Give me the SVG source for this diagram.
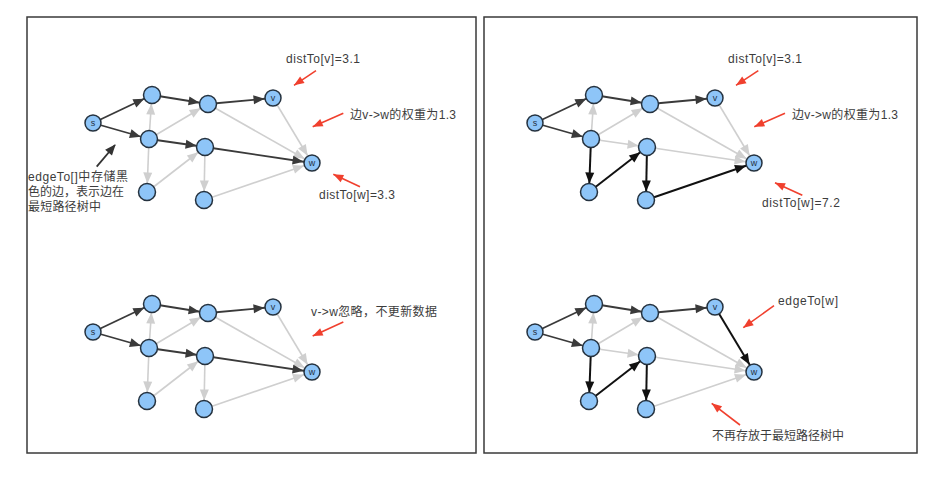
<svg xmlns="http://www.w3.org/2000/svg" width="947" height="479" viewBox="0 0 947 479">
<style>
.frame{fill:none;stroke:#3a3a3a;stroke-width:1.5}
.nd{fill:#8ec5f8;stroke:#25323f;stroke-width:1.5}
.nl{font-family:"Liberation Sans",sans-serif;font-size:9px;fill:#25323f;text-anchor:middle}
.dk{stroke:#3a3a3a;stroke-width:1.8;fill:none;marker-end:url(#mDk)}
.gr{stroke:#cfcfcf;stroke-width:1.6;fill:none;marker-end:url(#mGr)}
.bk{stroke:#111;stroke-width:2;fill:none;marker-end:url(#mBk)}
.red{stroke:#f0402e;stroke-width:1.6;fill:none;marker-end:url(#mRed)}
.ann{stroke:#333;stroke-width:1.8;fill:none;marker-end:url(#mAnn)}
.t{font-family:"Liberation Sans","Noto Sans CJK SC",sans-serif;font-size:12px;fill:#3c3c3c}
</style>
<defs>
<marker id="mDk" markerUnits="userSpaceOnUse" markerWidth="30" markerHeight="10" refX="19.5" refY="4.5" orient="auto" overflow="visible"><path d="M0,0 L11,4.5 L0,9 z" fill="#3a3a3a"/></marker>
<marker id="mGr" markerUnits="userSpaceOnUse" markerWidth="30" markerHeight="10" refX="19.5" refY="4.5" orient="auto" overflow="visible"><path d="M0,0 L11,4.5 L0,9 z" fill="#cfcfcf"/></marker>
<marker id="mBk" markerUnits="userSpaceOnUse" markerWidth="30" markerHeight="10" refX="19.5" refY="4.5" orient="auto" overflow="visible"><path d="M0,0 L11,4.5 L0,9 z" fill="#111"/></marker>
<marker id="mRed" markerUnits="userSpaceOnUse" markerWidth="12" markerHeight="10" refX="10" refY="4" orient="auto" overflow="visible"><path d="M0,0 L10,4 L0,8 z" fill="#f0402e"/></marker>
<marker id="mAnn" markerUnits="userSpaceOnUse" markerWidth="12" markerHeight="10" refX="10" refY="4.5" orient="auto" overflow="visible"><path d="M0,0 L11,4.5 L0,9 z" fill="#333"/></marker>
</defs>
<rect width="947" height="479" fill="#fff"/>
<rect class="frame" x="27" y="17" width="449" height="436"/>
<rect class="frame" x="484" y="17" width="433" height="436"/>

<!-- Panel 1 -->
<g id="panel1">
<g id="p1-edges">
<line class="dk" x1="93" y1="123" x2="152" y2="95"/>
<line class="dk" x1="93" y1="123" x2="149" y2="139"/>
<line class="gr" x1="149" y1="139" x2="152" y2="95"/>
<line class="dk" x1="152" y1="95" x2="208" y2="104"/>
<line class="gr" x1="149" y1="139" x2="208" y2="104"/>
<line class="dk" x1="149" y1="139" x2="205" y2="147"/>
<line class="gr" x1="149" y1="139" x2="147" y2="192"/>
<line class="dk" x1="208" y1="104" x2="273" y2="98"/>
<line class="gr" x1="208" y1="104" x2="312" y2="163"/>
<line class="gr" x1="273" y1="98" x2="312" y2="163"/>
<line class="dk" x1="205" y1="147" x2="312" y2="163"/>
<line class="gr" x1="147" y1="192" x2="205" y2="147"/>
<line class="gr" x1="205" y1="147" x2="204" y2="200"/>
<line class="gr" x1="204" y1="200" x2="312" y2="163"/>
</g>
<g id="p1-s"><circle class="nd" cx="93" cy="123" r="8"/><text class="nl" x="93" y="126">s</text></g>
<g id="p1-a"><circle class="nd" cx="152" cy="95" r="8.5"/></g>
<g id="p1-b"><circle class="nd" cx="149" cy="139" r="8.5"/></g>
<g id="p1-c"><circle class="nd" cx="208" cy="104" r="8.5"/></g>
<g id="p1-d"><circle class="nd" cx="205" cy="147" r="8.5"/></g>
<g id="p1-v"><circle class="nd" cx="273" cy="98" r="8"/><text class="nl" x="273" y="101">v</text></g>
<g id="p1-w"><circle class="nd" cx="312" cy="163" r="8"/><text class="nl" x="312" y="166">w</text></g>
<g id="p1-e"><circle class="nd" cx="147" cy="192" r="8.5"/></g>
<g id="p1-f"><circle class="nd" cx="204" cy="200" r="8.5"/></g>
<g id="p1-notes">
<text class="t" x="286" y="62.5" textLength="74" lengthAdjust="spacing">distTo[v]=3.1</text>
<line class="red" x1="316" y1="70.7" x2="294" y2="85.3"/>
<text class="t" x="350" y="118.5" textLength="106" lengthAdjust="spacing">边v-&gt;w的权重为1.3</text>
<line class="red" x1="343.3" y1="113.3" x2="312.7" y2="126.7"/>
<text class="t" x="319" y="198.5" textLength="76" lengthAdjust="spacing">distTo[w]=3.3</text>
<line class="red" x1="360" y1="186.7" x2="333.3" y2="174.3"/>
<line class="ann" x1="96.7" y1="166.7" x2="115" y2="145"/>
<text class="t" x="28" y="180.5" textLength="100" lengthAdjust="spacing">edgeTo[]中存储黑</text>
<text class="t" x="28" y="195.5" textLength="96" lengthAdjust="spacing">色的边，表示边在</text>
<text class="t" x="28" y="210.5" textLength="73" lengthAdjust="spacing">最短路径树中</text>
</g>
</g>

<!-- Panel 3 -->
<g id="panel3">
<g id="p3-edges">
<line class="dk" x1="93" y1="332" x2="152" y2="304"/>
<line class="dk" x1="93" y1="332" x2="149" y2="348"/>
<line class="gr" x1="149" y1="348" x2="152" y2="304"/>
<line class="dk" x1="152" y1="304" x2="208" y2="313"/>
<line class="gr" x1="149" y1="348" x2="208" y2="313"/>
<line class="dk" x1="149" y1="348" x2="205" y2="356"/>
<line class="gr" x1="149" y1="348" x2="147" y2="401"/>
<line class="dk" x1="208" y1="313" x2="273" y2="307"/>
<line class="gr" x1="208" y1="313" x2="312" y2="372"/>
<line class="gr" x1="273" y1="307" x2="312" y2="372"/>
<line class="dk" x1="205" y1="356" x2="312" y2="372"/>
<line class="gr" x1="147" y1="401" x2="205" y2="356"/>
<line class="gr" x1="205" y1="356" x2="204" y2="409"/>
<line class="gr" x1="204" y1="409" x2="312" y2="372"/>
</g>
<g id="p3-s"><circle class="nd" cx="93" cy="332" r="8"/><text class="nl" x="93" y="335">s</text></g>
<g id="p3-a"><circle class="nd" cx="152" cy="304" r="8.5"/></g>
<g id="p3-b"><circle class="nd" cx="149" cy="348" r="8.5"/></g>
<g id="p3-c"><circle class="nd" cx="208" cy="313" r="8.5"/></g>
<g id="p3-d"><circle class="nd" cx="205" cy="356" r="8.5"/></g>
<g id="p3-v"><circle class="nd" cx="273" cy="307" r="8"/><text class="nl" x="273" y="310">v</text></g>
<g id="p3-w"><circle class="nd" cx="312" cy="372" r="8"/><text class="nl" x="312" y="375">w</text></g>
<g id="p3-e"><circle class="nd" cx="147" cy="401" r="8.5"/></g>
<g id="p3-f"><circle class="nd" cx="204" cy="409" r="8.5"/></g>
<g id="p3-notes">
<text class="t" x="311" y="315.5" textLength="126" lengthAdjust="spacing">v-&gt;w忽略，不更新数据</text>
<line class="red" x1="343.3" y1="322" x2="312.7" y2="336"/>
</g>
</g>

<!-- Panel 2 -->
<g id="panel2">
<g id="p2-edges">
<line class="dk" x1="535" y1="123" x2="594" y2="95"/>
<line class="dk" x1="535" y1="123" x2="591" y2="139"/>
<line class="gr" x1="591" y1="139" x2="594" y2="95"/>
<line class="dk" x1="594" y1="95" x2="650" y2="104"/>
<line class="gr" x1="591" y1="139" x2="650" y2="104"/>
<line class="gr" x1="591" y1="139" x2="647" y2="147"/>
<line class="bk" x1="591" y1="139" x2="589" y2="192"/>
<line class="dk" x1="650" y1="104" x2="715" y2="98"/>
<line class="gr" x1="650" y1="104" x2="754" y2="163"/>
<line class="gr" x1="715" y1="98" x2="754" y2="163"/>
<line class="gr" x1="647" y1="147" x2="754" y2="163"/>
<line class="bk" x1="589" y1="192" x2="647" y2="147"/>
<line class="bk" x1="647" y1="147" x2="646" y2="200"/>
<line class="bk" x1="646" y1="200" x2="754" y2="163"/>
</g>
<g id="p2-s"><circle class="nd" cx="535" cy="123" r="8"/><text class="nl" x="535" y="126">s</text></g>
<g id="p2-a"><circle class="nd" cx="594" cy="95" r="8.5"/></g>
<g id="p2-b"><circle class="nd" cx="591" cy="139" r="8.5"/></g>
<g id="p2-c"><circle class="nd" cx="650" cy="104" r="8.5"/></g>
<g id="p2-d"><circle class="nd" cx="647" cy="147" r="8.5"/></g>
<g id="p2-v"><circle class="nd" cx="715" cy="98" r="8"/><text class="nl" x="715" y="101">v</text></g>
<g id="p2-w"><circle class="nd" cx="754" cy="163" r="8"/><text class="nl" x="754" y="166">w</text></g>
<g id="p2-e"><circle class="nd" cx="589" cy="192" r="8.5"/></g>
<g id="p2-f"><circle class="nd" cx="646" cy="200" r="8.5"/></g>
<g id="p2-notes">
<text class="t" x="728" y="62.5" textLength="74" lengthAdjust="spacing">distTo[v]=3.1</text>
<line class="red" x1="758.3" y1="70.7" x2="736" y2="85.3"/>
<text class="t" x="792" y="118.5" textLength="106" lengthAdjust="spacing">边v-&gt;w的权重为1.3</text>
<line class="red" x1="785" y1="113.3" x2="754.3" y2="126.7"/>
<text class="t" x="762" y="207" textLength="78" lengthAdjust="spacing">distTo[w]=7.2</text>
<line class="red" x1="802.3" y1="195.3" x2="775" y2="182.7"/>
</g>
</g>

<!-- Panel 4 -->
<g id="panel4">
<g id="p4-edges">
<line class="dk" x1="535" y1="332" x2="594" y2="304"/>
<line class="dk" x1="535" y1="332" x2="591" y2="348"/>
<line class="gr" x1="591" y1="348" x2="594" y2="304"/>
<line class="dk" x1="594" y1="304" x2="650" y2="313"/>
<line class="gr" x1="591" y1="348" x2="650" y2="313"/>
<line class="gr" x1="591" y1="348" x2="647" y2="356"/>
<line class="bk" x1="591" y1="348" x2="589" y2="401"/>
<line class="dk" x1="650" y1="313" x2="715" y2="307"/>
<line class="gr" x1="650" y1="313" x2="754" y2="372"/>
<line class="bk" x1="715" y1="307" x2="754" y2="372"/>
<line class="gr" x1="647" y1="356" x2="754" y2="372"/>
<line class="bk" x1="589" y1="401" x2="647" y2="356"/>
<line class="bk" x1="647" y1="356" x2="646" y2="409"/>
<line class="gr" x1="646" y1="409" x2="754" y2="372"/>
</g>
<g id="p4-s"><circle class="nd" cx="535" cy="332" r="8"/><text class="nl" x="535" y="335">s</text></g>
<g id="p4-a"><circle class="nd" cx="594" cy="304" r="8.5"/></g>
<g id="p4-b"><circle class="nd" cx="591" cy="348" r="8.5"/></g>
<g id="p4-c"><circle class="nd" cx="650" cy="313" r="8.5"/></g>
<g id="p4-d"><circle class="nd" cx="647" cy="356" r="8.5"/></g>
<g id="p4-v"><circle class="nd" cx="715" cy="307" r="8"/><text class="nl" x="715" y="310">v</text></g>
<g id="p4-w"><circle class="nd" cx="754" cy="372" r="8"/><text class="nl" x="754" y="375">w</text></g>
<g id="p4-e"><circle class="nd" cx="589" cy="401" r="8.5"/></g>
<g id="p4-f"><circle class="nd" cx="646" cy="409" r="8.5"/></g>
<g id="p4-notes">
<text class="t" x="778" y="304.5" textLength="60" lengthAdjust="spacing">edgeTo[w]</text>
<line class="red" x1="774" y1="305.7" x2="743.3" y2="327.7"/>
<text class="t" x="712" y="439.5" textLength="132" lengthAdjust="spacing">不再存放于最短路径树中</text>
<line class="red" x1="740" y1="425" x2="711.7" y2="403.3"/>
</g>
</g>
</svg>
